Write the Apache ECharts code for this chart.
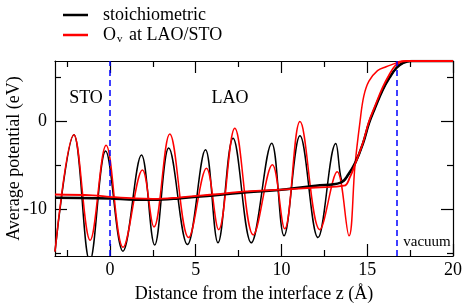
<!DOCTYPE html>
<html><head><meta charset="utf-8">
<script src="https://cdn.jsdelivr.net/npm/echarts@6/dist/echarts.min.js"></script>
<style>html,body{margin:0;padding:0;background:#fff}#c{width:463px;height:305px}</style>
</head><body><div id="c"></div>
<script>
const FONT = '"Liberation Serif", "Times New Roman", serif';

// planar-averaged potential, stoichiometric (z in Å, V in eV)
const stoichZ = [-3.2, -2.1, -1.17, -0.25, 0.76, 1.84, 2.61, 3.43, 4.52, 5.57, 6.3, 7.18, 8.24, 9.43, 10.15, 11.08, 12.13, 13.17, 13.6, 14.3, 14.75, 15.1, 15.4, 15.9, 16.3, 16.7, 17.1, 17.6, 20];
const stoichV = [-14.8, -1.5, -15.9, -3.35, -14.75, -3.8, -14.05, -3.0, -14.0, -3.2, -13.8, -1.9, -13.8, -2.45, -13.0, -1.6, -13.2, -2.5, -6.8, -4.7, -2.5, -0.2, 1.3, 3.6, 5.0, 6.1, 6.7, 6.9, 6.9];

// planar-averaged potential, O vacancy at LAO/STO
const ovZ = [-3.2, -2.1, -1.15, -0.22, 0.77, 1.9, 2.57, 3.49, 4.59, 5.63, 6.34, 7.28, 8.36, 9.47, 10.19, 11.08, 12.24, 13.25, 13.94, 14.29, 14.58, 14.8, 15.1, 15.6, 16.1, 16.6, 17.0, 20];
const ovV = [-14.8, -1.5, -13.5, -2.7, -14.3, -5.5, -12.0, -1.4, -13.2, -5.3, -12.3, -0.75, -12.9, -4.9, -12.2, 0.0, -12.3, -5.7, -13.0, -4.9, 0.0, 2.9, 4.6, 5.8, 6.25, 6.6, 6.9, 6.9];

// macroscopic averages
const macroStoichZ = [-3.2, -1, 0, 1.5, 2.5, 4, 6, 8, 10, 12, 13.45, 13.9, 14.3, 14.75, 15.1, 15.4, 15.9, 16.3, 16.7, 17.1, 17.6, 20];
const macroStoichV = [-8.68, -8.72, -8.75, -8.9, -8.9, -8.75, -8.4, -8.05, -7.75, -7.3, -6.95, -6.0, -4.7, -2.5, -0.2, 1.3, 3.6, 5.0, 6.1, 6.7, 6.9, 6.9];
const macroOvZ = [-3.2, -1, 0, 1.5, 2.5, 4, 6, 8, 10, 12, 13.65, 14.0, 14.3, 14.75, 15.1, 15.4, 15.9, 16.3, 16.6, 16.95, 17.3, 20];
const macroOvV = [-8.3, -8.4, -8.56, -8.75, -8.8, -8.65, -8.3, -7.95, -7.75, -7.5, -7.3, -6.3, -4.8, -2.4, 0.0, 1.5, 3.9, 5.4, 6.3, 6.8, 6.9, 6.9];

const interfaceZ = [0, 16.7];
const xMajor = [0, 5, 10, 15, 20];
const xMinor = [-2.5, 2.5, 7.5, 12.5, 17.5];
const yMajor = [-10, 0];
const yMinor = [-15, -5, 5];
const xRange = [-3.2, 20];
const yRange = [-15.3, 6.9];

const zip = (a, b) => a.map((x, i) => [x, b[i]]);
const lineC = {color: '#000', width: 1.2};

function xAx(pos, ticks, len, labels, showLine) {
  return {
    type: 'value', position: pos, min: xRange[0], max: xRange[1],
    axisLine: {show: showLine, onZero: false, lineStyle: lineC},
    axisTick: {show: true, inside: true, length: len, customValues: ticks, lineStyle: lineC},
    axisLabel: labels ? {show: true, customValues: ticks, fontFamily: FONT, fontSize: 18, color: '#000', margin: 5} : {show: false},
    splitLine: {show: false},
    name: labels ? 'Distance from the interface z (Å)' : '',
    nameLocation: 'middle', nameGap: 29, nameMoveOverlap: false,
    nameTextStyle: {fontFamily: FONT, fontSize: 18, color: '#000'}
  };
}
function yAx(pos, ticks, len, labels, showLine) {
  return {
    type: 'value', position: pos, min: yRange[0], max: yRange[1],
    axisLine: {show: showLine, onZero: false, lineStyle: lineC},
    axisTick: {show: true, inside: true, length: len, customValues: ticks, lineStyle: lineC},
    axisLabel: labels ? {show: true, customValues: ticks, fontFamily: FONT, fontSize: 18, color: '#000', margin: 8} : {show: false},
    splitLine: {show: false},
    name: labels ? 'Average potential (eV)' : '',
    nameLocation: 'middle', nameGap: 32, nameRotate: 90, nameMoveOverlap: false,
    nameTextStyle: {fontFamily: FONT, fontSize: 18, color: '#000'}
  };
}

const chart = echarts.init(document.getElementById('c'), null, {renderer: 'canvas'});
chart.setOption({
  animation: false,
  backgroundColor: '#fff',
  grid: {left: 55, right: 10, top: 61, bottom: 49, outerBoundsMode: 'none', containLabel: false},
  xAxis: [xAx('bottom', xMajor, 12, true, true), xAx('bottom', xMinor, 6, false, false),
          xAx('top', xMajor, 12, false, true), xAx('top', xMinor, 6, false, false)],
  yAxis: [yAx('left', yMajor, 12, true, true), yAx('left', yMinor, 6, false, false),
          yAx('right', yMajor, 12, false, true), yAx('right', yMinor, 6, false, false)],
  legend: {
    data: ['stoich', 'ov'], orient: 'vertical', left: 63, top: 6, padding: 0,
    itemWidth: 25, itemHeight: 2.5, icon: 'rect', itemGap: 2,
    formatter: n => n === 'stoich' ? '{a|stoichiometric}' : '{a|O}{b|v}{a| at LAO/STO}',
    textStyle: {
      fontFamily: FONT, fontSize: 18, color: '#000', padding: [0, 0, 0, 10],
      rich: {
        a: {fontFamily: FONT, fontSize: 18, color: '#000'},
        b: {fontFamily: FONT, fontSize: 11, color: '#000', padding: [9, 2, 0, 1]}
      }
    }
  },
  graphic: [
    {type: 'text', x: 86, y: 98, style: {text: 'STO', font: '18px ' + FONT, fontFamily: FONT, fontSize: 18, fill: '#000', align: 'center', verticalAlign: 'middle'}},
    {type: 'text', x: 230, y: 98, style: {text: 'LAO', font: '18px ' + FONT, fontFamily: FONT, fontSize: 18, fill: '#000', align: 'center', verticalAlign: 'middle'}},
    {type: 'text', x: 427, y: 242, style: {text: 'vacuum', font: '15px ' + FONT, fontFamily: FONT, fontSize: 15, fill: '#000', align: 'center', verticalAlign: 'middle'}}
  ],
  series: [
    {name: 'stoich', type: 'line', data: zip(stoichZ, stoichV), showSymbol: false, symbol: 'none', smooth: 0.38,
     lineStyle: {color: '#000', width: 1.5}, itemStyle: {color: '#000'},
     markLine: {silent: true, symbol: 'none', label: {show: false},
       lineStyle: {color: '#0000ff', type: [6, 4], width: 1.5},
       data: interfaceZ.map(z => ({xAxis: z}))}},
    {name: 'ov', type: 'line', data: zip(ovZ, ovV), showSymbol: false, symbol: 'none', smooth: 0.38,
     lineStyle: {color: '#ff0000', width: 1.5}, itemStyle: {color: '#ff0000'}},
    {name: 'stoichMacro', type: 'line', data: zip(macroStoichZ, macroStoichV), showSymbol: false, symbol: 'none', smooth: 0.4,
     lineStyle: {color: '#000', width: 2.5}},
    {name: 'ovMacro', type: 'line', data: zip(macroOvZ, macroOvV), showSymbol: false, symbol: 'none', smooth: 0.4,
     lineStyle: {color: '#ff0000', width: 1.8}}
  ]
});
</script>
</body></html>
